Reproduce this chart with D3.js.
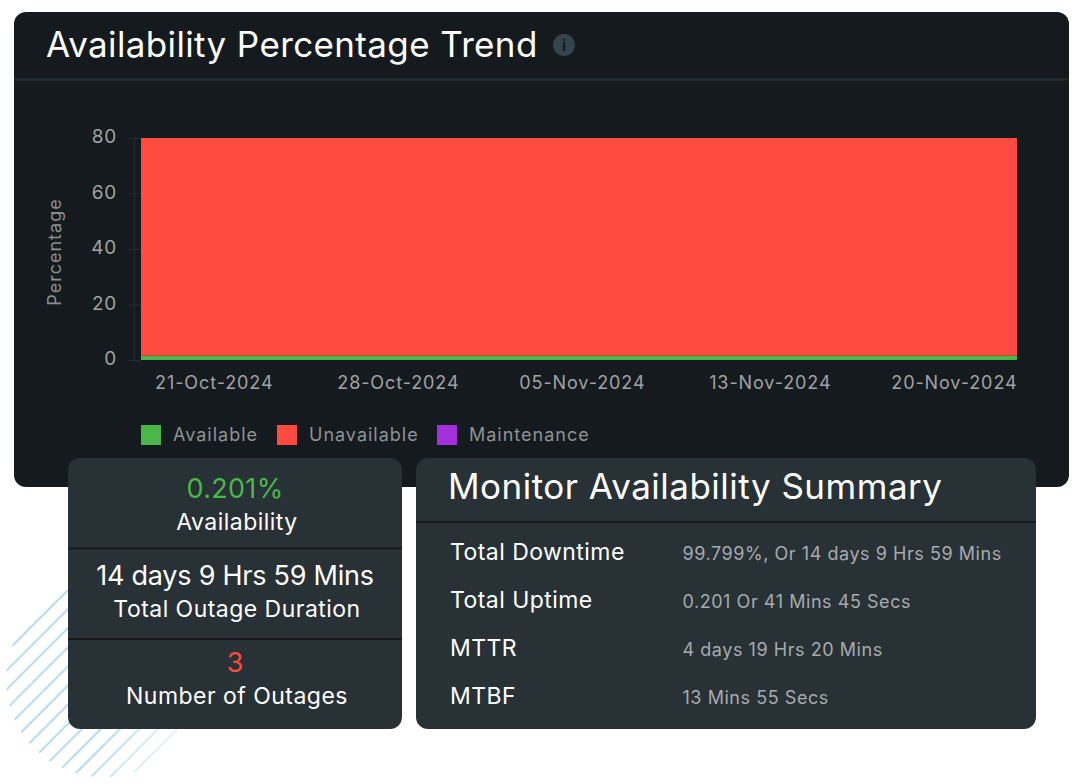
<!DOCTYPE html>
<html>
<head>
<meta charset="utf-8">
<script src="https://cdn.jsdelivr.net/npm/d3@7"></script>
<style>
  html, body { margin: 0; padding: 0; background: #fff; }
  svg { display: block; }
  text { font-family: Inter, "Noto Sans", sans-serif; }
  .domain { stroke: #232c30; }
  .tick line { stroke: #232c30; }
</style>
</head>
<body>
<script>
const width = 1080,
  height = 784;

const dates = ["21-Oct-2024", "28-Oct-2024", "05-Nov-2024", "13-Nov-2024", "20-Nov-2024"];
const available = [1.5, 1.5, 1.5, 1.5, 1.5];
const unavailable = [78.5, 78.5, 78.5, 78.5, 78.5];
const maintenance = [0, 0, 0, 0, 0];
const yTicks = [0, 20, 40, 60, 80];
const legendNames = ["Available", "Unavailable", "Maintenance"];
const legendColors = ["#4ab74a", "#ff4b40", "#a42fdc"];
const kpiValues = ["0.201%", "14 days 9 Hrs 59 Mins", "3"];
const kpiLabels = ["Availability", "Total Outage Duration", "Number of Outages"];
const summaryNames = ["Total Downtime", "Total Uptime", "MTTR", "MTBF"];
const summaryValues = ["99.799%, Or 14 days 9 Hrs 59 Mins", "0.201 Or 41 Mins 45 Secs", "4 days 19 Hrs 20 Mins", "13 Mins 55 Secs"];

const svg = d3
  .select("body")
  .append("svg")
  .attr("width", width)
  .attr("height", height);

// striped circle behind the cards, fading out to the lower right
const defs = svg.append("defs");
defs
  .append("clipPath")
  .attr("id", "blob")
  .append("circle")
  .attr("cx", 103)
  .attr("cy", 680)
  .attr("r", 97);

const fade = defs
  .append("linearGradient")
  .attr("id", "fade")
  .attr("gradientUnits", "userSpaceOnUse")
  .attr("x1", 120)
  .attr("y1", 720)
  .attr("x2", 180)
  .attr("y2", 760);
fade.append("stop").attr("offset", 0).attr("stop-color", "#fff");
fade.append("stop").attr("offset", 1).attr("stop-color", "#222");
defs
  .append("mask")
  .attr("id", "fade-mask")
  .attr("maskUnits", "userSpaceOnUse")
  .attr("x", 0)
  .attr("y", 570)
  .attr("width", 220)
  .attr("height", 214)
  .append("rect")
  .attr("x", 0)
  .attr("y", 570)
  .attr("width", 220)
  .attr("height", 214)
  .attr("fill", "url(#fade)");

const stripes = svg
  .append("g")
  .attr("clip-path", "url(#blob)")
  .append("g")
  .attr("mask", "url(#fade-mask)");
stripes
  .selectAll("line")
  .data(d3.range(0, 16))
  .join("line")
  .attr("x1", d => 658 + d * 19.1 - 790)
  .attr("y1", 790)
  .attr("x2", d => 658 + d * 19.1 - 570)
  .attr("y2", 570)
  .attr("stroke", "#b5dcf3")
  .attr("stroke-width", 2);

// main dark panel
svg
  .append("rect")
  .attr("x", 14)
  .attr("y", 12)
  .attr("width", 1055)
  .attr("height", 475)
  .attr("rx", 12)
  .attr("fill", "#141a1d");

svg
  .append("line")
  .attr("x1", 14)
  .attr("x2", 1069)
  .attr("y1", 79.5)
  .attr("y2", 79.5)
  .attr("stroke", "#252e33")
  .attr("stroke-width", 2);

svg
  .append("text")
  .attr("x", 46)
  .attr("y", 57)
  .attr("font-size", 35)
  .attr("letter-spacing", 0.37)
  .attr("fill", "#fff")
  .text("Availability Percentage Trend");

svg
  .append("circle")
  .attr("cx", 564)
  .attr("cy", 45)
  .attr("r", 11)
  .attr("fill", "#34444d");
svg
  .append("text")
  .attr("x", 564)
  .attr("y", 51)
  .attr("text-anchor", "middle")
  .attr("font-size", 15)
  .attr("font-weight", 700)
  .attr("fill", "#141a1d")
  .text("i");

// chart
const y = d3.scaleLinear().domain([0, 80]).range([360, 138]);
const xArea = d3.scalePoint().domain(dates).range([141, 1017]);
const xLabels = d3.scalePoint().domain(dates).range([273, 1017]);

const rows = dates.map((d, i) => ({
  date: d,
  Available: available[i],
  Unavailable: unavailable[i],
  Maintenance: maintenance[i]
}));
const stacked = d3.stack().keys(legendNames)(rows);
const area = d3
  .area()
  .x(d => xArea(d.data.date))
  .y0(d => y(d[0]))
  .y1(d => y(d[1]));

svg
  .append("g")
  .selectAll("path")
  .data(stacked)
  .join("path")
  .attr("fill", (d, i) => legendColors[i])
  .attr("d", area);

const yAxis = svg
  .append("g")
  .attr("transform", "translate(134,0)")
  .call(d3.axisLeft(y).tickValues(yTicks).tickSize(5).tickSizeOuter(0));
yAxis.selectAll(".tick line").attr("x2", 7).attr("x1", -5);
yAxis
  .selectAll("text")
  .attr("x", -17)
  .attr("dy", "0.26em")
  .attr("font-size", 19)
  .attr("letter-spacing", 0.7)
  .attr("fill", "#a0a2a4");

const xAxis = svg
  .append("g")
  .attr("transform", "translate(0,360)")
  .call(d3.axisBottom(xLabels).tickSize(0).tickPadding(0));
xAxis.select(".domain").remove();
xAxis
  .selectAll("text")
  .attr("text-anchor", "end")
  .attr("y", 28.5)
  .attr("dy", 0)
  .attr("font-size", 18)
  .attr("letter-spacing", 0.9)
  .attr("fill", "#a0a2a4");

svg
  .append("text")
  .attr("transform", "translate(61,252) rotate(-90)")
  .attr("text-anchor", "middle")
  .attr("font-size", 18)
  .attr("letter-spacing", 1)
  .attr("fill", "#8a8d8f")
  .text("Percentage");

// legend
const legendX = [141, 277, 437];
const legend = svg
  .append("g")
  .selectAll("g")
  .data(legendNames)
  .join("g")
  .attr("transform", (d, i) => `translate(${legendX[i]},425)`);
legend
  .append("rect")
  .attr("width", 20)
  .attr("height", 20)
  .attr("fill", (d, i) => legendColors[i]);
legend
  .append("text")
  .attr("x", 32)
  .attr("y", 16)
  .attr("font-size", 18)
  .attr("letter-spacing", 1)
  .attr("fill", "#8f9294")
  .text(d => d);

// cards
svg
  .selectAll("rect.card")
  .data([[68, 334], [416, 620]])
  .join("rect")
  .attr("class", "card")
  .attr("x", d => d[0])
  .attr("y", 458)
  .attr("width", d => d[1])
  .attr("height", 271)
  .attr("rx", 12)
  .attr("fill", "#273136");

svg
  .selectAll("line.divider")
  .data([[68, 402, 548.5], [68, 402, 639], [416, 1036, 522]])
  .join("line")
  .attr("class", "divider")
  .attr("x1", d => d[0])
  .attr("x2", d => d[1])
  .attr("y1", d => d[2])
  .attr("y2", d => d[2])
  .attr("stroke", "#141a1d")
  .attr("stroke-width", 2);

const kpiColors = ["#4ab74a", "#fff", "#ff4b40"];
const kpiValueY = [498, 585, 672];
const kpiLabelY = [530, 617, 704];
const kpiValueSpacing = [0.3, -0.25, 0];
svg
  .selectAll("text.kpi-value")
  .data(kpiValues)
  .join("text")
  .attr("class", "kpi-value")
  .attr("x", 235)
  .attr("y", (d, i) => kpiValueY[i])
  .attr("text-anchor", "middle")
  .attr("font-size", 27)
  .attr("letter-spacing", (d, i) => kpiValueSpacing[i])
  .attr("fill", (d, i) => kpiColors[i])
  .text(d => d);
svg
  .selectAll("text.kpi-label")
  .data(kpiLabels)
  .join("text")
  .attr("class", "kpi-label")
  .attr("x", 237)
  .attr("y", (d, i) => kpiLabelY[i])
  .attr("text-anchor", "middle")
  .attr("font-size", 23)
  .attr("letter-spacing", 0.47)
  .attr("fill", "#fff")
  .text(d => d);

svg
  .append("text")
  .attr("x", 448)
  .attr("y", 499)
  .attr("font-size", 35)
  .attr("letter-spacing", 0.5)
  .attr("fill", "#fff")
  .text("Monitor Availability Summary");

const rowY = [560, 608, 656, 704];
svg
  .selectAll("text.sum-name")
  .data(summaryNames)
  .join("text")
  .attr("class", "sum-name")
  .attr("x", 450)
  .attr("y", (d, i) => rowY[i])
  .attr("font-size", 23)
  .attr("letter-spacing", 0.45)
  .attr("fill", "#fff")
  .text(d => d);
svg
  .selectAll("text.sum-value")
  .data(summaryValues)
  .join("text")
  .attr("class", "sum-value")
  .attr("x", 682.5)
  .attr("y", (d, i) => rowY[i])
  .attr("font-size", 18)
  .attr("letter-spacing", 0.55)
  .attr("fill", "#a8aaac")
  .text(d => d);
</script>
</body>
</html>
